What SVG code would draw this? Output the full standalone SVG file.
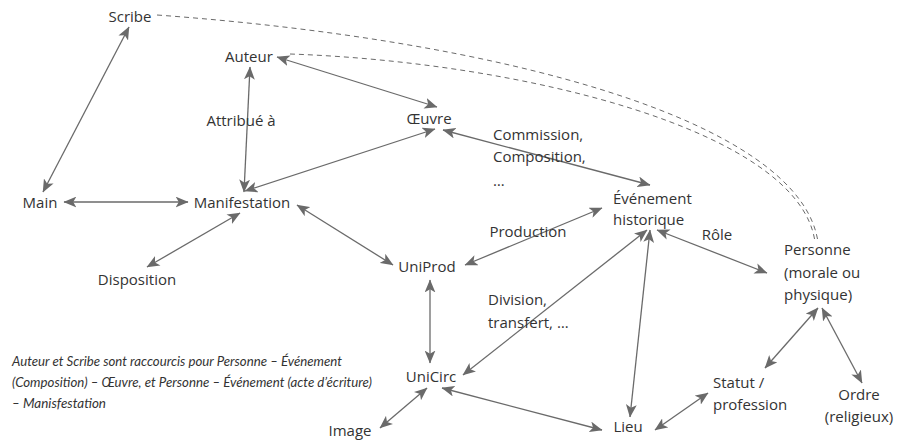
<svg xmlns="http://www.w3.org/2000/svg" width="898" height="442" viewBox="0 0 898 442">
<defs>
<style>
text{font-family:"Open Sans","Noto Sans",sans-serif;font-size:15px;fill:#333}
.m{text-anchor:middle}
.it{font-family:Lato,"Open Sans",sans-serif;font-style:italic;font-size:14px}
.c{fill:none;stroke:#6a6a6a;stroke-width:1.3;marker-start:url(#ah);marker-end:url(#ah)}
.d{fill:none;stroke:#6a6a6a;stroke-width:1;stroke-dasharray:5 4}
</style>
<marker id="ah" viewBox="0 0 12 10" refX="11.5" refY="5" markerWidth="13" markerHeight="11" orient="auto-start-reverse" markerUnits="userSpaceOnUse">
<path d="M0,0 L12,5 L0,10 L3,5 z" fill="#6a6a6a"/>
</marker>
</defs>
<rect width="898" height="442" fill="#fff"/>
<g id="connectors">
<path class="d" d="M157,15 C500,40 800,120 818,242"/>
<path class="d" d="M290,54 C520,62 800,130 815,242"/>
<line class="c" x1="129" y1="27" x2="43" y2="192"/>
<line class="c" x1="250" y1="67" x2="244" y2="192"/>
<line class="c" x1="277" y1="57" x2="437" y2="107"/>
<line class="c" x1="245" y1="191" x2="435" y2="129"/>
<line class="c" x1="64" y1="202" x2="188" y2="202"/>
<line class="c" x1="240" y1="213" x2="147" y2="267"/>
<line class="c" x1="297" y1="205" x2="393" y2="265"/>
<line class="c" x1="443" y1="130" x2="650" y2="185"/>
<line class="c" x1="465" y1="265" x2="602" y2="208"/>
<line class="c" x1="657" y1="230" x2="767" y2="273"/>
<line class="c" x1="430" y1="280" x2="430" y2="363"/>
<line class="c" x1="463" y1="375" x2="647" y2="230"/>
<line class="c" x1="630" y1="417" x2="650" y2="230"/>
<line class="c" x1="442" y1="388" x2="602" y2="430"/>
<line class="c" x1="380" y1="428" x2="427" y2="388"/>
<line class="c" x1="655" y1="430" x2="708" y2="393"/>
<line class="c" x1="765" y1="368" x2="818" y2="308"/>
<line class="c" x1="822" y1="308" x2="862" y2="383"/>
</g>
<g id="labels">
<text class="m" x="241" y="126">Attribué à</text>
<text x="493" y="140">Commission,</text>
<text x="493" y="162">Composition,</text>
<text x="493" y="186">…</text>
<text class="m" x="528" y="237">Production</text>
<text class="m" x="717" y="240">Rôle</text>
<text x="488" y="305">Division,</text>
<text x="488" y="328">transfert, …</text>
<text class="it" x="12" y="366" textLength="330" lengthAdjust="spacingAndGlyphs">Auteur et Scribe sont raccourcis pour Personne – Événement</text>
<text class="it" x="12" y="387" textLength="360" lengthAdjust="spacingAndGlyphs">(Composition) – Œuvre, et Personne – Événement (acte d’écriture)</text>
<text class="it" x="12" y="408" textLength="94" lengthAdjust="spacingAndGlyphs">– Manisfestation</text>
</g>
<g id="scribe"><text class="m" x="130" y="22">Scribe</text></g>
<g id="auteur"><text class="m" x="249" y="62">Auteur</text></g>
<g id="oeuvre"><text class="m" x="429" y="124">Œuvre</text></g>
<g id="main"><text class="m" x="40" y="208">Main</text></g>
<g id="manifestation"><text class="m" x="242" y="208">Manifestation</text></g>
<g id="disposition"><text class="m" x="137" y="285">Disposition</text></g>
<g id="evenement"><text x="613" y="204">Événement</text><text x="613" y="225">historique</text></g>
<g id="uniprod"><text class="m" x="427" y="272">UniProd</text></g>
<g id="personne"><text x="784" y="255">Personne</text><text x="784" y="278">(morale ou</text><text x="784" y="300">physique)</text></g>
<g id="unicirc"><text class="m" x="431" y="382">UniCirc</text></g>
<g id="image"><text class="m" x="350" y="436">Image</text></g>
<g id="lieu"><text class="m" x="628" y="432">Lieu</text></g>
<g id="statut"><text x="713" y="388">Statut /</text><text x="713" y="410">profession</text></g>
<g id="ordre"><text class="m" x="859" y="400">Ordre</text><text class="m" x="859" y="422">(religieux)</text></g>
</svg>
